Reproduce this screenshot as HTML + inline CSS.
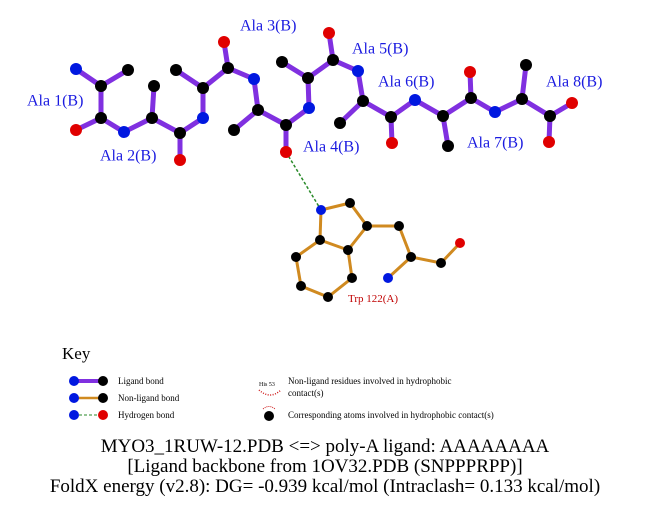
<!DOCTYPE html>
<html><head><meta charset="utf-8"><style>
body{margin:0;background:#fff;width:651px;height:511px;overflow:hidden}
svg{display:block;font-family:"Liberation Serif",serif}
</style></head><body>
<svg width="651" height="511" viewBox="0 0 651 511" xmlns="http://www.w3.org/2000/svg">
<g stroke-width="5" stroke-linecap="round" fill="none" style="stroke:#8030e0">
<polyline points="76,69 101,86 128,70"/>
<polyline points="101,86 101,118 76,130"/>
<polyline points="101,118 124,132 152,118 154,86"/>
<polyline points="152,118 180,133 180,160"/>
<polyline points="180,133 203,118 203,88 176,70"/>
<polyline points="203,88 228,68 224,42"/>
<polyline points="228,68 254,79 258,110 234,130"/>
<polyline points="258,110 286,125 286,152"/>
<polyline points="286,125 309,108 308,78 282,62"/>
<polyline points="308,78 333,60 329,33"/>
<polyline points="333,60 358,71 363,101 340,123"/>
<polyline points="363,101 391,117 392,143"/>
<polyline points="391,117 415,100 443,116 448,146"/>
<polyline points="443,116 471,98 470,72"/>
<polyline points="471,98 495,112 522,99 526,65"/>
<polyline points="522,99 550,116 549,142"/>
<polyline points="550,116 572,103"/>
</g>
<line x1="286" y1="152" x2="321" y2="210" stroke="#2a8a2a" stroke-width="1.5" stroke-dasharray="3,2"/>
<g stroke="#d08a20" stroke-width="3" fill="none">
<polyline points="321,210 350,203 367,226 399,226 411,257 441,263 460,243"/>
<polyline points="411,257 388,278"/>
<polyline points="367,226 348,250 320,240 321,210"/>
<polyline points="320,240 296,257 301,286 328,297 352,278 348,250"/>
</g>
<g fill="#000">
<circle cx="101" cy="86" r="6"/><circle cx="128" cy="70" r="6"/><circle cx="101" cy="118" r="6"/>
<circle cx="152" cy="118" r="6"/><circle cx="154" cy="86" r="6"/><circle cx="180" cy="133" r="6"/>
<circle cx="203" cy="88" r="6"/><circle cx="176" cy="70" r="6"/><circle cx="228" cy="68" r="6"/>
<circle cx="258" cy="110" r="6"/><circle cx="234" cy="130" r="6"/><circle cx="286" cy="125" r="6"/>
<circle cx="308" cy="78" r="6"/><circle cx="282" cy="62" r="6"/><circle cx="333" cy="60" r="6"/>
<circle cx="363" cy="101" r="6"/><circle cx="340" cy="123" r="6"/><circle cx="391" cy="117" r="6"/>
<circle cx="443" cy="116" r="6"/><circle cx="448" cy="146" r="6"/><circle cx="471" cy="98" r="6"/>
<circle cx="522" cy="99" r="6"/><circle cx="526" cy="65" r="6"/><circle cx="550" cy="116" r="6"/>
<circle cx="350" cy="203" r="5"/><circle cx="367" cy="226" r="5"/><circle cx="399" cy="226" r="5"/>
<circle cx="411" cy="257" r="5"/><circle cx="441" cy="263" r="5"/><circle cx="348" cy="250" r="5"/>
<circle cx="320" cy="240" r="5"/><circle cx="296" cy="257" r="5"/><circle cx="301" cy="286" r="5"/>
<circle cx="328" cy="297" r="5"/><circle cx="352" cy="278" r="5"/>
</g>
<g fill="#0018e0">
<circle cx="76" cy="69" r="6"/><circle cx="124" cy="132" r="6"/><circle cx="203" cy="118" r="6"/>
<circle cx="254" cy="79" r="6"/><circle cx="309" cy="108" r="6"/><circle cx="358" cy="71" r="6"/>
<circle cx="415" cy="100" r="6"/><circle cx="495" cy="112" r="6"/>
<circle cx="321" cy="210" r="5"/><circle cx="388" cy="278" r="5"/>
</g>
<g fill="#e00000">
<circle cx="76" cy="130" r="6"/><circle cx="180" cy="160" r="6"/><circle cx="224" cy="42" r="6"/>
<circle cx="286" cy="152" r="6"/><circle cx="329" cy="33" r="6"/><circle cx="392" cy="143" r="6"/>
<circle cx="470" cy="72" r="6"/><circle cx="549" cy="142" r="6"/><circle cx="572" cy="103" r="6"/>
<circle cx="460" cy="243" r="5"/>
</g>
<g fill="#1a1ae0" font-size="16" dominant-baseline="middle">
<text x="27" y="102">Ala 1(B)</text>
<text x="100" y="157">Ala 2(B)</text>
<text x="240" y="27">Ala 3(B)</text>
<text x="303" y="148">Ala 4(B)</text>
<text x="352" y="50">Ala 5(B)</text>
<text x="378" y="83">Ala 6(B)</text>
<text x="467" y="144">Ala 7(B)</text>
<text x="546" y="83">Ala 8(B)</text>
</g>
<text x="348" y="302" fill="#c00000" font-size="11">Trp 122(A)</text>
<text x="62" y="359" font-size="17">Key</text>
<line x1="74" y1="381" x2="103" y2="381" stroke="#8030e0" stroke-width="4"/>
<circle cx="74" cy="381" r="5" fill="#0018e0"/><circle cx="103" cy="381" r="5" fill="#000"/>
<line x1="74" y1="398" x2="103" y2="398" stroke="#d08a20" stroke-width="2.5"/>
<circle cx="74" cy="398" r="5" fill="#0018e0"/><circle cx="103" cy="398" r="5" fill="#000"/>
<line x1="74" y1="415" x2="103" y2="415" stroke="#2a8a2a" stroke-width="1" stroke-dasharray="3,2"/>
<circle cx="74" cy="415" r="5" fill="#0018e0"/><circle cx="103" cy="415" r="5" fill="#e00000"/>
<g font-size="9" fill="#000">
<text x="118" y="384">Ligand bond</text>
<text x="118" y="401">Non-ligand bond</text>
<text x="118" y="418">Hydrogen bond</text>
<text x="259" y="386" font-size="6">His 53</text>
<text x="288" y="384">Non-ligand residues involved in hydrophobic</text>
<text x="288" y="396">contact(s)</text>
<text x="288" y="418">Corresponding atoms involved in hydrophobic contact(s)</text>
</g>
<path d="M259,390 Q270,400 281,390" stroke="#d02020" stroke-width="1.5" fill="none" stroke-dasharray="1,1.5"/>
<circle cx="269" cy="416" r="5" fill="#000"/>
<path d="M263,409 Q269,404 275,409" stroke="#d02020" stroke-width="1" fill="none" stroke-dasharray="1,1"/>
<g font-size="19" text-anchor="middle" fill="#000">
<text x="325" y="452">MYO3_1RUW-12.PDB &lt;=&gt; poly-A ligand: AAAAAAAA</text>
<text x="325" y="472">[Ligand backbone from 1OV32.PDB (SNPPPRPP)]</text>
<text x="325" y="492">FoldX energy (v2.8): DG= -0.939 kcal/mol (Intraclash= 0.133 kcal/mol)</text>
</g>
</svg>
</body></html>
